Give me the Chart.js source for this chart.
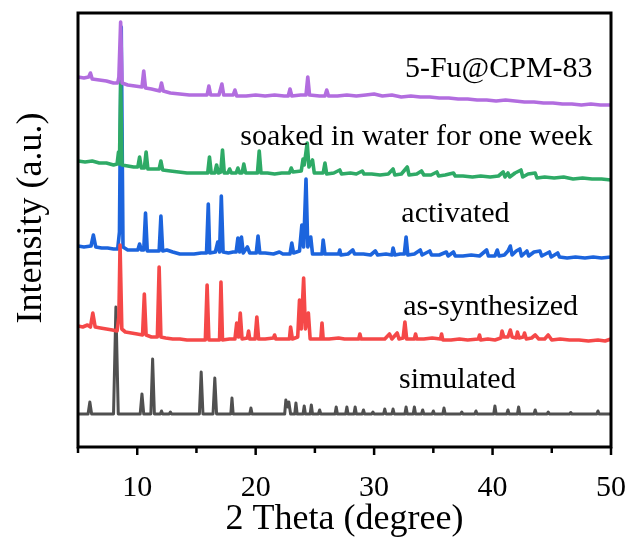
<!DOCTYPE html>
<html>
<head>
<meta charset="utf-8">
<script src="https://cdn.jsdelivr.net/npm/chart.js@4/dist/chart.umd.min.js"></script>
<style>
  body { margin: 0; background: #fff; }
  #graph { display: block; }
</style>
</head>
<body>
<canvas id="graph" width="630" height="542"></canvas>
<script>
// 2 theta (degree), intensity (a.u., traces already stacked)
var simulated = [
  [5,33],[5.85,33],[6,45],[6.15,33],[8,33],[8.2,140],[8.4,33],[10.25,33],[10.4,53],[10.55,33],
  [11.15,33],[11.3,88],[11.45,33],[11.95,33],[12.05,36],[12.15,33],[12.7,33],[12.8,35],[12.9,33],
  [15.25,33],[15.4,75],[15.55,33],[16.4,33],[16.55,69],[16.7,33],[17.9,33],[18,49],[18.1,33],
  [19.5,33],[19.6,39],[19.7,33],[22.45,33],[22.55,47],[22.7,40],[22.8,45],[22.95,33],
  [23.3,33],[23.4,44],[23.5,33],[24,33],[24.1,41],[24.2,33],[24.6,33],[24.7,42],[24.8,33],
  [25.3,33],[25.4,37],[25.5,33],[26.7,33],[26.8,40],[26.9,33],[27.6,33],[27.7,40],[27.8,33],
  [28.3,33],[28.4,40],[28.5,33],[29,33],[29.1,37],[29.2,33],[29.8,33],[29.9,35],[30,33],
  [30.8,33],[30.9,38],[31,33],[31.5,33],[31.6,38],[31.7,33],[32.6,33],[32.7,40],[32.8,33],
  [33.3,33],[33.4,40],[33.5,33],[34,33],[34.1,37],[34.2,33],[34.9,33],[35,36],[35.1,33],
  [35.8,33],[35.9,39],[36,33],[37.3,33],[37.4,35],[37.5,33],[38.5,33],[38.6,36],[38.7,33],
  [40.1,33],[40.2,41],[40.3,33],[41.2,33],[41.3,37],[41.4,33],[42.1,33],[42.2,40],[42.3,33],
  [43.5,33],[43.6,37],[43.7,33],[44.6,33],[44.7,35],[44.8,33],[46.5,33],[46.6,34.5],[46.7,33],
  [48.8,33],[48.9,36],[49,33],[50,33]
];

var asSynthesized = [
  [5,121],[5.4,120],[5.8,122],[6.05,120],[6.25,134],[6.45,120],[6.9,119],[7.4,118],[7.9,117],
  [8.3,116],[8.45,130],[8.55,202],[8.7,118],[9,115],[9.5,114],[10,113],[10.45,112],[10.6,153],
  [10.75,112],[11.2,110],[11.7,110],[11.85,180],[12,110],[12.4,109],[13,108],[13.6,108],
  [14.2,107],[14.8,107],[15.4,107],[15.75,107],[15.9,162],[16.05,107],[16.5,107],[16.95,107],
  [17.07,165],[17.2,107],[17.8,108],[18.25,108],[18.4,124],[18.55,110],[18.7,134],[18.85,108],
  [19.3,109],[19.4,116],[19.5,108],[19.95,108],[20.1,130],[20.25,108],[20.8,108],[21.5,109],
  [21.6,112],[21.7,108],[22.3,108],[22.85,108],[22.95,120],[23.1,108],[23.55,110],[23.7,147],
  [23.85,118],[24.05,169],[24.2,118],[24.45,134],[24.6,108],[25,108],[25.5,108],[25.6,124],
  [25.7,108],[26.2,108],[27,109],[27.5,108],[28.1,108],[28.7,108],[28.8,113],[28.9,108],
  [29.6,108],[30.3,108],[30.9,108],[31.3,113],[31.5,108],[31.95,114],[32.1,108],[32.45,109],
  [32.6,125],[32.75,108],[33.4,108],[33.5,113],[33.6,108],[34.2,108],[34.9,109],[35.6,108],
  [35.7,113],[35.8,107],[36.5,107],[37.2,108],[37.9,107],[38.8,108],[38.9,112],[39,107],
  [39.6,108],[40.2,107],[40.7,109],[40.8,116],[40.95,110],[41.3,110],[41.5,117],[41.65,110],
  [42,109],[42.1,115],[42.25,109],[42.6,110],[42.7,114],[42.85,108],[43.3,109],[43.6,112],
  [43.9,108],[44.4,108],[44.7,112],[45,107],[45.7,108],[46.5,107],[47.3,107],[48.1,106],
  [48.9,107],[49.5,106],[50,108]
];

var activated = [
  [5,201],[5.5,200],[6.1,201],[6.3,212],[6.5,200],[7,199],[7.5,199],[8,198],[8.35,198],[8.5,215],
  [8.65,420],[8.8,200],[9.2,197],[9.7,197],[10.05,197],[10.2,203],[10.35,197],[10.55,197],
  [10.7,234],[10.85,196],[11.4,196],[11.85,196],[12,231],[12.15,196],[12.5,197],[13,195],
  [13.6,193],[14.2,193],[14.8,193],[15.4,194],[15.85,194],[16,243],[16.12,194],[16.6,195],
  [16.8,205],[16.95,195],[17.1,251],[17.25,195],[17.7,194],[18.1,195],[18.35,195],[18.5,209],
  [18.65,195],[18.8,210],[18.95,194],[19.3,200],[19.5,194],[20.05,194],[20.2,211],[20.35,194],
  [20.8,194],[21.5,193],[22,195],[22.3,193],[22.9,193],[23.05,204],[23.2,194],[23.7,196],
  [23.9,222],[24.05,200],[24.25,268],[24.4,200],[24.65,210],[24.8,193],[25.2,193],[25.6,193],
  [25.7,207],[25.85,193],[26.4,193],[27,193],[27.1,197],[27.2,192],[27.8,193],[28.2,197],
  [28.35,193],[29.1,193],[29.7,192],[30.1,196],[30.3,192],[31,193],[31.5,192],[31.6,199],
  [31.75,192],[32.2,193],[32.55,193],[32.7,210],[32.85,192],[33.4,193],[33.9,197],[34.05,192],
  [34.7,196],[34.85,192],[35.5,192],[36.1,195],[36.25,191],[36.7,195],[36.85,191],[37.5,191],
  [38.2,192],[38.9,191],[39.5,197],[39.65,191],[40.2,191],[40.4,197],[40.55,191],[41,192],
  [41.3,196],[41.5,201],[41.65,192],[42,196],[42.3,198],[42.45,191],[42.9,196],[43.05,191],
  [43.5,195],[44,196],[44.15,191],[44.8,195],[44.95,190],[45.5,194],[45.65,190],[46.3,189],
  [47,190],[47.8,189],[48.5,190],[49.2,189],[50,190]
];

var soaked = [
  [5,286],[5.6,285],[6.2,286],[6.8,284],[7.4,284],[8,282],[8.3,283],[8.42,295],[8.5,283],
  [8.6,365],[8.72,282],[9.2,281],[9.7,280],[10.05,280],[10.2,290],[10.35,279],[10.6,279],
  [10.75,295],[10.9,278],[11.5,278],[11.85,278],[12,286],[12.15,277],[12.8,276],[13.5,275],
  [14.2,274],[14.9,274],[15.5,274],[15.95,274],[16.1,290],[16.25,274],[16.55,274],[16.7,282],
  [16.85,274],[17.05,275],[17.2,297],[17.35,274],[17.65,274],[17.8,278],[17.95,274],[18.35,274],
  [18.5,279],[18.65,274],[18.85,274],[19,283],[19.15,274],[19.7,274],[20.15,274],[20.3,296],
  [20.45,274],[21,274],[21.6,273],[22.2,274],[22.85,274],[23,279],[23.15,275],[23.85,276],
  [24,288],[24.1,282],[24.35,304],[24.5,280],[24.8,287],[24.95,274],[25.4,274],[25.7,274],
  [25.85,284],[26,273],[26.6,274],[27.1,277],[27.25,273],[28,274],[28.5,273],[29,276],
  [29.15,273],[29.8,273],[30.5,272],[31.2,273],[31.6,278],[31.75,272],[32.3,273],[32.8,280],
  [32.95,272],[33.6,273],[34,276],[34.2,272],[34.8,272],[35.3,275],[35.45,271],[36,272],
  [36.7,274],[36.85,271],[37.5,271],[38.3,270],[39,271],[39.8,270],[40.5,271],[40.9,275],
  [41.05,270],[41.3,274],[41.45,270],[41.9,274],[42.4,277],[42.55,270],[43,273],[43.6,274],
  [43.75,269],[44.4,270],[45.2,269],[46,270],[46.8,268],[47.6,269],[48.4,268],[49.2,268],[50,267]
];

var loaded5Fu = [
  [5,370],[5.5,369],[5.9,370],[6.05,374],[6.2,368],[6.8,367],[7.4,366],[8,364],[8.35,364],
  [8.45,370],[8.6,425],[8.72,364],[9.2,362],[9.8,361],[10.4,360],[10.55,376],[10.7,359],
  [11.2,358],[11.9,356],[12.05,364],[12.2,356],[12.8,354],[13.6,353],[14.4,352],[15.2,352],
  [15.9,352],[16.05,361],[16.2,352],[16.9,352],[17.15,363],[17.3,352],[18.1,352],[18.25,357],
  [18.4,351],[19.2,351],[20,352],[20.8,351],[21.6,352],[22.4,351],[22.75,351],[22.9,358],
  [23.05,351],[23.8,352],[24.25,352],[24.4,370],[24.55,352],[25.4,351],[25.85,351],[26,357],
  [26.15,351],[26.9,351],[27.7,352],[28.5,351],[29.3,352],[30,353],[30.7,351],[31.5,352],
  [32.3,350],[33.1,351],[33.9,350],[34.7,350],[35.5,349],[36.3,349],[37.1,348],[37.9,348],
  [38.7,347],[39.5,347],[40.3,346],[41.1,347],[41.9,346],[42.7,345],[43.5,345],[44.3,344],
  [45.1,344],[45.9,343],[46.7,343],[47.5,342],[48.3,343],[49.1,342],[50,342]
];

// top trace first so it is painted on top
var seriesNames  = ["5-Fu@CPM-83", "soaked in water for one week", "as-synthesized", "activated", "simulated"];
var seriesData   = [loaded5Fu, soaked, asSynthesized, activated, simulated];
var seriesColors = ["#b26ddf", "#2eaa66", "#f54848", "#1c64dd", "#505050"];

// where each trace name is written: [2 theta of left edge, intensity of baseline]
var labelAt = [[32.6, 370], [18.7, 302], [32.45, 132], [32.3, 225], [32.1, 59]];

var FONT = "'Liberation Serif', 'Times New Roman', serif";

window.addEventListener("load", function(){

    let datasets = [];
    for (let i = 0; i < seriesData.length; i++){
        datasets.push({
            label: seriesNames[i],
            data: seriesData[i].map(function(p){ return {x: p[0], y: p[1]}; }),
            borderColor: seriesColors[i],
            borderWidth: i == 4 ? 3 : 3.6,
            pointRadius: 0,
            tension: 0,
            borderJoinStyle: "round",
            fill: false
        });
    }

    // frame, outward ticks, axis titles and trace names
    let decor = {
        id: "decor",
        afterDraw: function(chart){
            let ctx  = chart.ctx;
            let area = chart.chartArea;
            let xs   = chart.scales.x;
            let ys   = chart.scales.y;

            ctx.save();
            ctx.strokeStyle = "#000";
            ctx.lineWidth = 3;
            ctx.lineJoin = "miter";
            ctx.beginPath();
            ctx.moveTo(area.left, area.top);
            ctx.lineTo(area.right, area.top);
            ctx.lineTo(area.right, area.bottom);
            ctx.lineTo(area.left, area.bottom);
            ctx.closePath();
            ctx.stroke();

            ctx.lineWidth = 2.5;
            xs.ticks.forEach(function(t){
                let px  = xs.getPixelForValue(t.value);
                let len = (t.value % 10 === 0) ? 8 : 6;
                ctx.beginPath();
                ctx.moveTo(px, area.bottom);
                ctx.lineTo(px, area.bottom + len);
                ctx.stroke();
            });

            ctx.fillStyle = "#000";
            ctx.font = "36px " + FONT;
            ctx.textAlign = "center";
            ctx.textBaseline = "alphabetic";
            ctx.fillText("2 Theta (degree)", (area.left + area.right) / 2, 529);

            ctx.save();
            ctx.translate(41, 218);
            ctx.rotate(-Math.PI / 2);
            ctx.fillText("Intensity (a.u.)", 0, 0);
            ctx.restore();

            ctx.font = "30px " + FONT;
            ctx.textAlign = "left";
            for (let i = 0; i < seriesNames.length; i++){
                ctx.fillText(seriesNames[i], xs.getPixelForValue(labelAt[i][0]), ys.getPixelForValue(labelAt[i][1]));
            }
            ctx.restore();
        }
    };

    new Chart(document.getElementById("graph"), {
        type: "line",
        data: { datasets: datasets },
        options: {
            responsive: false,
            animation: false,
            layout: { padding: { top: 13, right: 19, left: 0, bottom: 0 } },
            plugins: { legend: { display: false }, tooltip: { enabled: false } },
            scales: {
                x: {
                    type: "linear",
                    min: 5,
                    max: 50,
                    // tick marks are drawn by the plugin; the length here only pushes the labels down
                    grid: { display: false, drawTicks: true, tickLength: 23 },
                    border: { display: false },
                    ticks: {
                        stepSize: 5,
                        autoSkip: false,
                        maxRotation: 0,
                        padding: 0,
                        color: "#000",
                        font: { family: FONT, size: 30 },
                        callback: function(v){ return v % 10 === 0 ? v : ""; }
                    },
                    afterFit: function(scale){ scale.height = 95; }
                },
                y: {
                    min: 0,
                    max: 434,
                    grid: { display: false, drawTicks: false },
                    border: { display: false },
                    ticks: { display: false },
                    afterFit: function(scale){ scale.width = 78; }
                }
            }
        },
        plugins: [decor]
    });

});
</script>
</body>
</html>
